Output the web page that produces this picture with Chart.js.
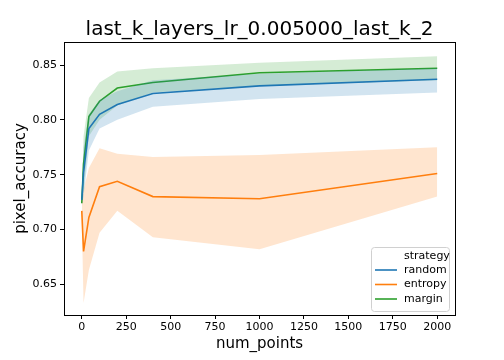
<!DOCTYPE html>
<html>
<head>
<meta charset="utf-8">
<script src="https://cdn.jsdelivr.net/npm/chart.js"></script>
<style>
  html, body { margin: 0; padding: 0; background: #fff; }
  #wrap { width: 504px; height: 360px; position: relative; }
</style>
</head>
<body>
<div id="wrap"><canvas id="chart"></canvas></div>
<script>
/* ---------- DATA ---------- */

const numPoints = [0, 10, 40, 100, 200, 400, 1000, 2000];

const randomMean = [0.727, 0.752, 0.792, 0.805, 0.814, 0.824, 0.831, 0.837];
const randomLow  = [0.722, 0.730, 0.772, 0.792, 0.800, 0.812, 0.819, 0.825];
const randomHigh = [0.732, 0.775, 0.805, 0.818, 0.826, 0.836, 0.842, 0.847];

const entropyMean = [0.717, 0.680, 0.711, 0.739, 0.744, 0.730, 0.728, 0.751];
const entropyLow  = [0.710, 0.633, 0.663, 0.697, 0.717, 0.693, 0.682, 0.730];
const entropyHigh = [0.722, 0.736, 0.756, 0.774, 0.769, 0.766, 0.768, 0.775];

const marginMean = [0.724, 0.760, 0.803, 0.817, 0.829, 0.834, 0.843, 0.847];
const marginLow  = [0.720, 0.735, 0.785, 0.800, 0.813, 0.825, 0.831, 0.836];
const marginHigh = [0.728, 0.785, 0.820, 0.834, 0.844, 0.847, 0.852, 0.858];

const xTicks = [0, 250, 500, 750, 1000, 1250, 1500, 1750, 2000];
const yTicks = [0.65, 0.70, 0.75, 0.80, 0.85];

const FONT = "'DejaVu Sans', sans-serif";

/* ---------- HELPERS ---------- */

const pts = arr => arr.map((v, i) => ({ x: numPoints[i], y: v }));

function series(name, color, band, mean, low, high) {
  // low bound, high bound (filled down to low), then the mean line
  return [
    { label: name + "_low", data: pts(low), borderWidth: 0, pointRadius: 0, fill: false, band: true },
    { label: name + "_high", data: pts(high), borderWidth: 0, pointRadius: 0,
      fill: "-1", backgroundColor: band, band: true },
    { label: name, data: pts(mean), borderColor: color, borderWidth: 1.6,
      pointRadius: 0, fill: false, tension: 0 }
  ];
}

const datasets = [
  ...series("random", "#1f77b4", "rgba(31,119,180,0.2)", randomMean, randomLow, randomHigh),
  ...series("entropy", "#ff7f0e", "rgba(255,127,14,0.2)", entropyMean, entropyLow, entropyHigh),
  ...series("margin", "#2ca02c", "rgba(44,160,44,0.2)", marginMean, marginLow, marginHigh)
];

/* ---------- PLUGINS ---------- */

const frame = {
  id: "frame",
  afterDatasetsDraw(chart) {
    const { ctx, chartArea: a } = chart;
    ctx.save();
    ctx.strokeStyle = "#000";
    ctx.lineWidth = 1;
    ctx.strokeRect(Math.round(a.left) + 0.5, Math.round(a.top) + 0.5,
      Math.round(a.right - a.left), Math.round(a.bottom - a.top));
    ctx.restore();
  }
};

const boxLegend = {
  id: "boxLegend",
  afterDraw(chart) {
    const { ctx, chartArea: a } = chart;
    const w = 78, h = 64;
    const x = a.right - w - 6, y = a.bottom - h - 4;
    ctx.save();
    ctx.fillStyle = "rgba(255,255,255,0.8)";
    ctx.strokeStyle = "#d0d0d0";
    ctx.lineWidth = 1;
    ctx.beginPath();
    ctx.roundRect(x + 0.5, y + 0.5, w, h, 3);
    ctx.fill();
    ctx.stroke();

    ctx.font = "11px " + FONT;
    ctx.textBaseline = "middle";
    ctx.fillStyle = "#000";
    ctx.textAlign = "left";
    ctx.fillText("strategy", x + 33, y + 9);

    const items = chart.data.datasets.filter(d => !d.band);
    items.forEach((d, i) => {
      const yy = y + 23 + i * 14.5;
      ctx.strokeStyle = d.borderColor;
      ctx.lineWidth = 1.6;
      ctx.beginPath();
      ctx.moveTo(x + 4, yy);
      ctx.lineTo(x + 26, yy);
      ctx.stroke();
      ctx.fillStyle = "#000";
      ctx.fillText(d.label, x + 33, yy);
    });
    ctx.restore();
  }
};

/* ---------- CHART ---------- */

new Chart(document.getElementById("chart"), {
  type: "line",
  data: { datasets },
  options: {
    responsive: true,
    maintainAspectRatio: false,
    animation: false,
    layout: { padding: { left: 0, right: 49, top: 0, bottom: 0 } },
    plugins: {
      legend: { display: false },
      tooltip: { enabled: false },
      title: {
        display: true,
        fullSize: false,
        text: "last_k_layers_lr_0.005000_last_k_2",
        color: "#000",
        font: { family: FONT, size: 20, weight: "normal", lineHeight: 1 },
        padding: { top: 20, bottom: 2 }
      }
    },
    scales: {
      x: {
        type: "linear",
        min: -100,
        max: 2100,
        afterBuildTicks: s => { s.ticks = xTicks.map(v => ({ value: v })); },
        afterFit: s => { s.height = 45; },
        grid: { drawOnChartArea: false, tickLength: 4, color: "#000" },
        border: { display: false },
        ticks: {
          color: "#000", padding: 2, maxRotation: 0,
          font: { family: FONT, size: 11 },
          callback: v => String(v)
        },
        title: {
          display: true, text: "num_points", color: "#000",
          font: { family: FONT, size: 15 }, padding: { top: 7, bottom: 7 }
        }
      },
      y: {
        type: "linear",
        min: 0.622,
        max: 0.871,
        afterBuildTicks: s => { s.ticks = yTicks.map(v => ({ value: v })); },
        afterFit: s => { s.width = 64; },
        grid: { drawOnChartArea: false, tickLength: 4, color: "#000" },
        border: { display: false },
        ticks: {
          color: "#000", padding: 3,
          font: { family: FONT, size: 11 },
          callback: v => v.toFixed(2)
        },
        title: {
          display: true, text: "pixel_accuracy", color: "#000",
          font: { family: FONT, size: 15 }, padding: { top: 12, bottom: 12 }
        }
      }
    }
  },
  plugins: [frame, boxLegend]
});
</script>
</body>
</html>
